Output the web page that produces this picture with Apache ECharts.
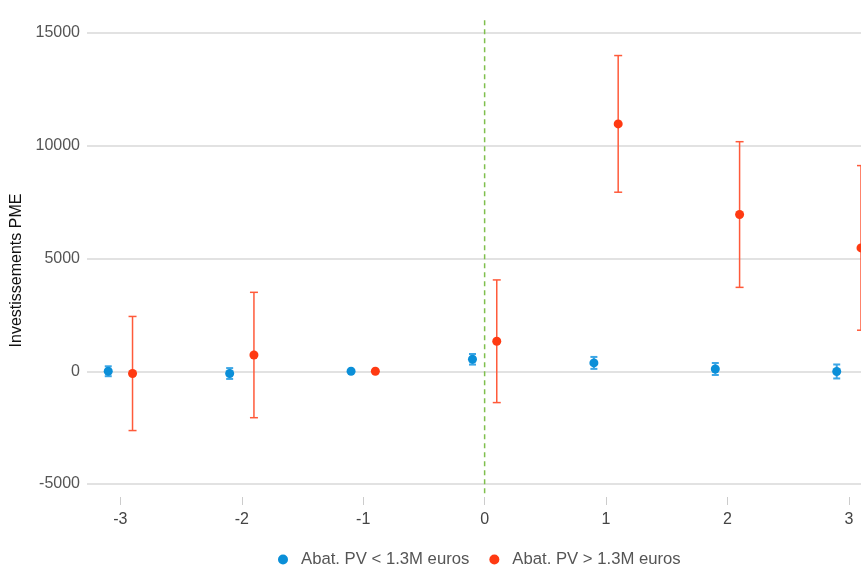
<!DOCTYPE html>
<html>
<head>
<meta charset="utf-8">
<script src="https://cdn.jsdelivr.net/npm/echarts@6/dist/echarts.min.js"></script>
<style>html,body{margin:0;padding:0;background:#fff}#c{width:861px;height:565px}</style>
</head>
<body>
<div id="c"></div>
<script>
const periods = [-3, -2, -1, 0, 1, 2, 3];
const xTicks = [-3, -2, -1, 0, 1, 2, 3];
const blueName = 'Abat. PV < 1.3M euros';
const redName = 'Abat. PV > 1.3M euros';
const blueOffset = -0.1;
const redOffset = 0.1;
const blueVals = [0, -100, 0, 530, 370, 100, -10];
const blueErr = [220, 240, 0, 235, 265, 265, 310];
const redVals = [-100, 720, 0, 1330, 10970, 6950, 5470];
const redErr = [2530, 2780, 0, 2720, 3030, 3230, 3650];
const refLineX = 0;
const refLineY = [15570, -5590];

const BLUE = '#0b8fd8';
const BLUE_ERR = '#3ba6e6';
const RED = '#ff3a12';
const RED_ERR = '#ff5a3a';
const FONT = 'Arial, "Liberation Sans", sans-serif';

function pts(vals, off) { return periods.map((p, i) => [p + off, vals[i]]); }
function errs(vals, e, off) { return periods.map((p, i) => [p + off, vals[i] - e[i], vals[i] + e[i], e[i]]); }

function errRender(color, cap, width) {
  return function (params, api) {
    if (api.value(3) === 0) return null;
    const lo = api.coord([api.value(0), api.value(1)]);
    const hi = api.coord([api.value(0), api.value(2)]);
    const st = { stroke: color, lineWidth: width };
    return {
      type: 'group',
      children: [
        { type: 'line', shape: { x1: lo[0], y1: lo[1], x2: hi[0], y2: hi[1] }, style: st },
        { type: 'line', shape: { x1: lo[0] - cap, y1: lo[1], x2: lo[0] + cap, y2: lo[1] }, style: st },
        { type: 'line', shape: { x1: hi[0] - cap, y1: hi[1], x2: hi[0] + cap, y2: hi[1] }, style: st }
      ]
    };
  };
}

const chart = echarts.init(document.getElementById('c'), null, { renderer: 'canvas' });
chart.setOption({
  animation: false,
  backgroundColor: '#fff',
  grid: { left: 87, right: 0, top: 33, bottom: 81 },
  legend: {
    top: 546,
    left: 273,
    itemGap: 20,
    itemWidth: 26,
    itemHeight: 10,
    textStyle: { color: '#555', fontSize: 16.7, fontFamily: FONT },
    data: [{ name: blueName, icon: 'circle' }, { name: redName, icon: 'circle' }]
  },
  xAxis: {
    type: 'value',
    min: -3.275,
    max: 3.1,
    offset: 13,
    axisLine: { show: false, onZero: false },
    axisTick: { show: true, length: 8, customValues: xTicks, lineStyle: { color: '#ccc', width: 1 } },
    axisLabel: { customValues: xTicks, color: '#444', fontSize: 16, margin: 15, fontFamily: FONT },
    splitLine: { show: false }
  },
  yAxis: {
    type: 'value',
    min: -5000,
    max: 15000,
    interval: 5000,
    name: 'Investissements PME',
    nameLocation: 'middle',
    nameGap: 54,
    nameTextStyle: { color: '#111', fontSize: 16, fontFamily: FONT, padding: [0, 24, 0, 0] },
    axisLine: { show: false },
    axisTick: { show: false },
    axisLabel: { color: '#555', fontSize: 16, margin: 7, fontFamily: FONT, formatter: v => String(v) },
    splitLine: { show: true, lineStyle: { color: '#d8d8d8', width: 1.5 } }
  },
  series: [
    {
      type: 'line', name: 'ref', silent: true, clip: false, symbol: 'none',
      data: refLineY.map(y => [refLineX, y]),
      lineStyle: { color: '#7fbf4d', width: 1.5, type: [5, 4] },
      z: 1
    },
    {
      type: 'custom', name: blueName, clip: false,
      renderItem: errRender(BLUE_ERR, 3.5, 2),
      data: errs(blueVals, blueErr, blueOffset),
      encode: { x: 0, y: [1, 2] }, itemStyle: { color: BLUE }, z: 2
    },
    {
      type: 'custom', name: redName, clip: false,
      renderItem: errRender(RED_ERR, 4, 1.5),
      data: errs(redVals, redErr, redOffset),
      encode: { x: 0, y: [1, 2] }, itemStyle: { color: RED }, z: 2
    },
    {
      type: 'scatter', name: blueName, clip: false, symbol: 'circle', symbolSize: 9,
      data: pts(blueVals, blueOffset), itemStyle: { color: BLUE, opacity: 1 }, z: 3
    },
    {
      type: 'scatter', name: redName, clip: false, symbol: 'circle', symbolSize: 9,
      data: pts(redVals, redOffset), itemStyle: { color: RED, opacity: 1 }, z: 3
    }
  ]
});
</script>
</body>
</html>
